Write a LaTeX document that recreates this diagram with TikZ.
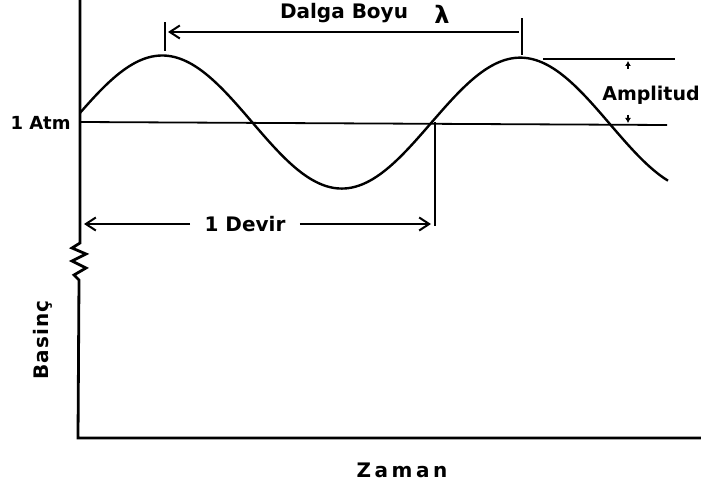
\documentclass[tikz,border=0pt]{standalone}
\usepackage{fontspec}
\setmainfont{DejaVu Sans}
\newfontfamily\lettering{DejaVu Sans}
\usetikzlibrary{arrows.meta,positioning,calc}

\begin{document}
\begin{tikzpicture}[x=0.5pt,y=-0.5pt,
    axis/.style={line width=1.4pt},
    guide/.style={line width=0.9pt},
    wave/.style={line width=1.2pt},
    dimarrow/.style={line width=1pt,-{Straight Barb[length=5pt,width=6.5pt]}},
    ampmark/.style={line width=0.7pt,-{Latex[length=2.5pt,width=3pt]}},
    lbl/.style={font=\lettering\bfseries\fontsize{10}{12}\selectfont,inner sep=1pt}
]
\useasboundingbox (0,0) rectangle (701,492);

% axes with the break
\coordinate (ytop) at (80,0);
\coordinate (brk) at (80,243);
\coordinate (orig) at (78,438);
\coordinate (xend) at (701,438);
\draw[axis] (ytop) -- (brk) -- ++(-8,5) -- ++(14,6) -- ++(-14,7)
    -- ++(14,7) -- ++(-12,7) -- ++(5,5) -- (orig) -- (xend);

% 1 Atm level
\coordinate (atm) at (80,122);
\coordinate (atmend) at (667,125);
\draw[guide] (atm) -- (atmend);

% pressure wave
\draw[wave,domain=80:668,samples=120,smooth]
    plot (\x,{121+0.006*(\x-80)-66*sin((\x-73)/358*360)});

% wavelength
\coordinate (pk1) at (165,51);
\coordinate (pk2) at (522,55);
\draw[guide] (pk1) -- ++(0,-29);
\draw[guide] (pk2) -- ++(0,-37);
\coordinate (wlL) at (168,32);
\coordinate (wlR) at (519,32);
\draw[dimarrow,{Straight Barb[length=5pt,width=6.5pt]}-] (wlL) -- (wlR);
\node[lbl] (dalga) at (344,13) {Dalga Boyu};
\node[font=\bfseries\fontsize{12}{13}\selectfont,inner sep=1pt] (lambda) at (442,14) {λ};

% one cycle
\coordinate (cyc) at (435,122);
\coordinate (cycend) at (435,226);
\draw[guide] (cyc) -- (cycend);
\node[lbl,inner xsep=7pt] (devir) at (245,224) {1 Devir};
\coordinate (devL) at (84,224);
\coordinate (devR) at (431,224);
\draw[dimarrow] (devir.west) -- (devL);
\draw[dimarrow] (devir.east) -- (devR);

% amplitude
\coordinate (amptop) at (543,59);
\coordinate (ampend) at (675,59);
\draw[guide] (amptop) -- (ampend);
\draw[ampmark] (628,69) -- (628,61);
\draw[ampmark] (628,115) -- (628,123);
\node[lbl,font=\lettering\bfseries\fontsize{9.5}{11}\selectfont] (amp) at (651,95) {Amplitud};

% axis labels
\node[lbl,anchor=east,font=\lettering\bfseries\fontsize{9}{11}\selectfont] (atmlbl) at (73,123) {1 Atm};
\node[lbl,rotate=90,font=\lettering\bfseries\addfontfeature{LetterSpace=5}\fontsize{10}{12}\selectfont] (basinc) at (43,340) {Basinç};
\node[lbl,font=\lettering\bfseries\addfontfeature{LetterSpace=18}\fontsize{10}{12}\selectfont] (zaman) at (402,470) {Zaman};
\end{tikzpicture}
\end{document}
